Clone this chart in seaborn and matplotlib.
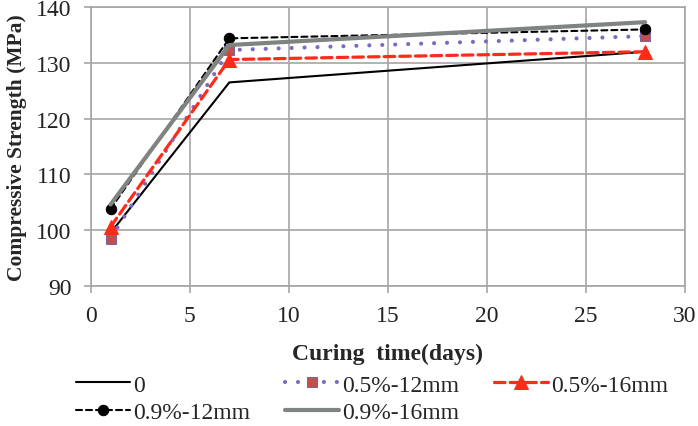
import matplotlib
matplotlib.use("Agg")
import matplotlib.pyplot as plt
import seaborn as sns
import pandas as pd

# data
days = [1, 7, 28]
s_0 = [99.5, 126.5, 132.0]
s_05_12 = [98.5, 132.3, 134.8]
s_05_16 = [100.6, 130.6, 132.0]
s_09_12 = [103.8, 134.4, 136.0]
s_09_16 = [104.6, 133.2, 137.3]

labels = ["0", "0.5%-12mm", "0.5%-16mm", "0.9%-12mm", "0.9%-16mm"]
values = [s_0, s_05_12, s_05_16, s_09_12, s_09_16]

sns.set_style("white")
plt.rcParams["font.family"] = ["Liberation Serif", "DejaVu Serif"]

fig, ax = plt.subplots(figsize=(6.98, 4.27), dpi=100)
fig.subplots_adjust(left=0.130, right=0.981, top=0.981, bottom=0.328)

styles = {
    "0": dict(color="black", lw=1.5, ls="-", marker=None),
    "0.5%-12mm": dict(color="#7B6BC0", lw=3, ls=(0, (0.01, 3.1)), marker="s",
                      markerfacecolor="#C0504D", markeredgecolor="#8064A2", markersize=7),
    "0.5%-16mm": dict(color="#FF2A1A", lw=2.3, ls=(0, (3.3, 1.6)), marker="^",
                      markerfacecolor="#FF2A1A", markeredgecolor="#FF2A1A", markersize=10),
    "0.9%-12mm": dict(color="black", lw=1.5, ls=(0, (2.9, 1.9)), marker="o",
                      markerfacecolor="black", markeredgecolor="black", markersize=7.5),
    "0.9%-16mm": dict(color="#7F8480", lw=3, ls="-", marker=None),
}

handles = {}
for lab, vals in zip(labels, values):
    df = pd.DataFrame({"day": days, "mpa": vals})
    st = dict(styles[lab])
    color = st.pop("color")
    lw = st.pop("lw")
    ls = st.pop("ls")
    sns.lineplot(data=df, x="day", y="mpa", ax=ax, color=color, linewidth=lw,
                 linestyle=ls, label=lab, dash_capstyle="round", **st)
    handles[lab] = ax.lines[-1]

ax.set_xlim(0, 30)
ax.set_ylim(90, 140)
ax.set_xticks(range(0, 31, 5))
ax.set_yticks(range(90, 141, 10))
ax.grid(True, color="#A6A6A6", lw=1.2)
for sp in ax.spines.values():
    sp.set_color("#A6A6A6")
    sp.set_linewidth(1.2)
ax.tick_params(axis="both", labelsize=17, length=5, width=1.2,
               color="#A6A6A6", direction="out", labelcolor="#222222")
ax.tick_params(axis="x", pad=9)
ax.tick_params(axis="y", pad=9)
ax.tick_params(axis="both", which="both", bottom=True, left=True)

ax.set_xlabel("Curing  time(days)", fontsize=17, fontweight="bold", labelpad=12)
ax.set_ylabel("Compressive Strength (MPa)", fontsize=15.5, fontweight="bold", labelpad=6)

ax.get_legend().remove()
order = ["0", "0.9%-12mm", "0.5%-12mm", "0.9%-16mm", "0.5%-16mm"]
fig.legend([handles[k] for k in order], order, ncol=3, loc="upper left",
           bbox_to_anchor=(76 / 698, 1 - 375 / 427), frameon=False, fontsize=17,
           handlelength=2.3, handletextpad=0.1, columnspacing=1.5,
           labelspacing=0.25, borderpad=0, borderaxespad=0)

fig.savefig("out.png", dpi=100)
